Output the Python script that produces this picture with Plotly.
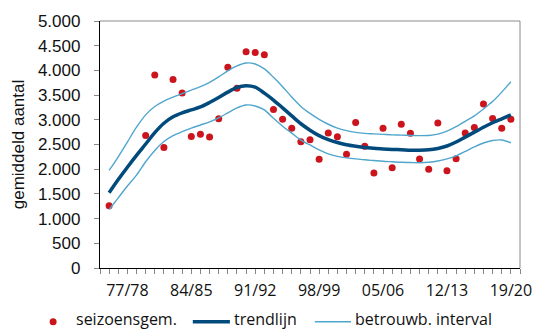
import plotly.graph_objects as go

# Seasons 1975/76 .. 2019/20
seasons = [f"{y % 100:02d}/{(y + 1) % 100:02d}" for y in range(1975, 2020)]

# Seasonal averages (None = no count that season)
seizoensgem = [
    1260, None, None, None, 2680, 3905, 2440, 3815, 3540, 2660,
    2710, 2650, 3020, 4065, 3640, 4380, 4360, 4315, 3210, 3010,
    2830, 2555, 2595, 2200, 2735, 2655, 2305, 2945, 2465, 1925,
    2830, 2030, 2910, 2730, 2205, 2000, 2935, 1970, 2210, 2735,
    2845, 3320, 3025, 2830, 3010,
]

# Smoothed trend
trendlijn = [
    1525, 1790, 2040, 2280, 2510, 2740, 2930, 3060, 3140, 3200,
    3260, 3350, 3450, 3560, 3655, 3690, 3660, 3540, 3400, 3240,
    3080, 2920, 2790, 2680, 2600, 2540, 2495, 2465, 2440, 2425,
    2410, 2400, 2395, 2385, 2385, 2393, 2420, 2470, 2550, 2650,
    2750, 2850, 2940, 3020, 3100,
]

# Confidence interval around the trend
interval_boven = [
    1975, 2250, 2550, 2850, 3100, 3270, 3380, 3460, 3530, 3600,
    3670, 3760, 3870, 3990, 4090, 4150, 4130, 4030, 3860, 3670,
    3460, 3270, 3130, 3010, 2910, 2830, 2780, 2745, 2725, 2715,
    2705, 2695, 2690, 2683, 2680, 2683, 2710, 2770, 2860, 2970,
    3080, 3220, 3370, 3560, 3770,
]
interval_onder = [
    1185, 1420, 1660, 1880, 2150, 2380, 2560, 2680, 2760, 2830,
    2895, 2960, 3040, 3140, 3240, 3300, 3280, 3200, 3030, 2870,
    2730, 2590, 2490, 2390, 2310, 2260, 2230, 2210, 2190, 2175,
    2160, 2150, 2140, 2135, 2130, 2140, 2165, 2210, 2270, 2360,
    2450, 2530, 2580, 2590, 2535,
]

legend_labels = ["seizoensgem.", "trendlijn", "betrouwb. interval"]

y_ticks = list(range(0, 5001, 500))
label_every = 7
label_start = 2

x = list(range(len(seasons)))
tick_pos = list(range(-1, len(seasons) + 1))
tick_txt = [
    seasons[i] if 0 <= i < len(seasons) and (i - label_start) % label_every == 0 else ""
    for i in tick_pos
]

RED = "#CC141C"
DARK = "#004A7C"
LIGHT = "#4FA6CC"
FONT = "Liberation Sans"
FONT2 = "Open Sans"

W, H = 544, 330
M = dict(l=100, r=14, t=20, b=62)
PW = W - M["l"] - M["r"]
PH = H - M["t"] - M["b"]


def px_x(p):
    """Page pixel x -> paper coordinate."""
    return (p - M["l"]) / PW


def px_y(p):
    """Page pixel y -> paper coordinate."""
    return (H - M["b"] - p) / PH


fig = go.Figure()
fig.add_trace(go.Scatter(
    x=x, y=seizoensgem, mode="markers", name=legend_labels[0],
    marker=dict(color=RED, size=7),
))
fig.add_trace(go.Scatter(
    x=x, y=trendlijn, mode="lines", name=legend_labels[1],
    line=dict(color=DARK, width=3.5, shape="spline", smoothing=0.8),
))
for band in (interval_boven, interval_onder):
    fig.add_trace(go.Scatter(
        x=x, y=band, mode="lines", name=legend_labels[2],
        line=dict(color=LIGHT, width=1.4, shape="spline", smoothing=0.8),
    ))

# Legend row below the axis
sym_y = px_y(322)
txt_y = px_y(319)
shapes = [
    dict(type="line", xref="paper", yref="paper", x0=0, x1=1, y0=1, y1=1,
         line=dict(color="#8a8a8a", width=1)),
    dict(type="line", xref="paper", yref="paper", x0=1, x1=1, y0=0, y1=1,
         line=dict(color="#8a8a8a", width=1)),
    dict(type="circle", xref="paper", yref="paper", xsizemode="pixel", ysizemode="pixel",
         xanchor=px_x(52), yanchor=sym_y, x0=-3.5, x1=3.5, y0=-3.5, y1=3.5,
         fillcolor=RED, line=dict(width=0)),
    dict(type="line", xref="paper", yref="paper", x0=px_x(195), x1=px_x(233), y0=sym_y, y1=sym_y,
         line=dict(color=DARK, width=3.5)),
    dict(type="line", xref="paper", yref="paper", x0=px_x(320), x1=px_x(357), y0=sym_y, y1=sym_y,
         line=dict(color=LIGHT, width=1.4)),
]
annotations = [
    dict(text=t, xref="paper", yref="paper", x=px_x(px), y=txt_y, xanchor="left", yanchor="middle",
         showarrow=False, borderpad=0, font=dict(family=FONT2, size=16, color="#111"))
    for t, px in zip(legend_labels, (74, 236, 360))
]

fig.update_layout(
    width=W, height=H,
    margin=M,
    paper_bgcolor="white", plot_bgcolor="white",
    font=dict(family=FONT, size=16, color="#111"),
    showlegend=False,
    xaxis=dict(
        range=[-1, len(seasons)],
        tickmode="array", tickvals=tick_pos, ticktext=tick_txt,
        ticks="outside", ticklen=5, tickcolor="#888", tickwidth=1,
        showline=True, linecolor="#000", linewidth=1.3,
        showgrid=False, zeroline=False,
        tickfont=dict(family=FONT2, size=16, color="#111"),
        ticklabelstandoff=3,
    ),
    yaxis=dict(
        range=[0, 5000],
        tickmode="array", tickvals=y_ticks,
        ticktext=[f"{v:,}".replace(",", ".") for v in y_ticks],
        ticks="outside", ticklen=5, tickcolor="#888", tickwidth=1,
        showline=True, linecolor="#000", linewidth=1.3,
        showgrid=False, zeroline=False,
        tickfont=dict(family=FONT, size=17, color="#111"),
        ticklabelstandoff=10,
        title=dict(text="gemiddeld aantal", font=dict(family=FONT, size=17, color="#111"),
                   standoff=8),
    ),
    shapes=shapes,
    annotations=annotations,
)

fig.write_html("out.html")
